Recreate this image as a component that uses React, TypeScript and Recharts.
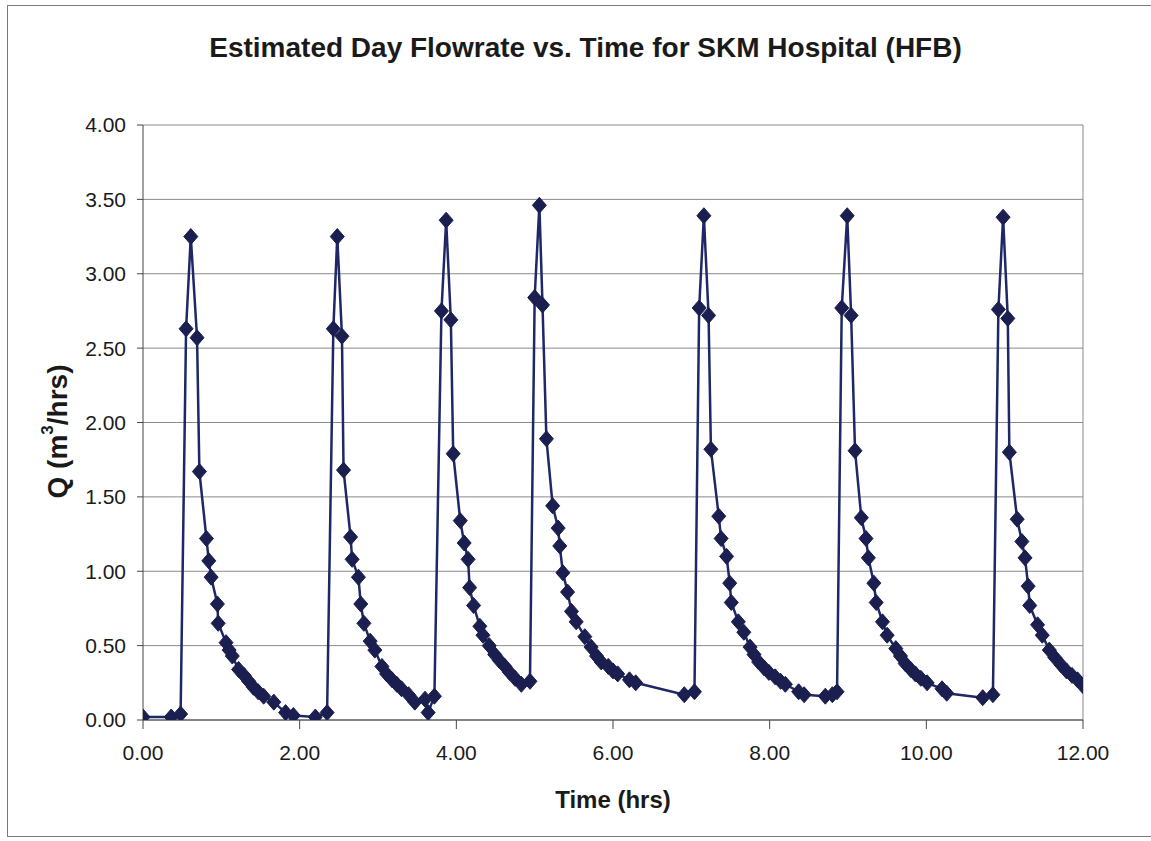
import { LineChart, Line, XAxis, YAxis, CartesianGrid, Label, ReferenceLine } from 'recharts';

// [time (hrs), Q (m3/hrs)], one array per flush cycle
const cycle1: [number, number][] = [
  [0.0, 0.02], [0.36, 0.02], [0.48, 0.04], [0.55, 2.63], [0.61, 3.25], [0.69, 2.57],
  [0.72, 1.67], [0.81, 1.22], [0.84, 1.07], [0.87, 0.96], [0.95, 0.78], [0.96, 0.65],
  [1.06, 0.52], [1.1, 0.47], [1.14, 0.43], [1.22, 0.34], [1.29, 0.3], [1.35, 0.26],
  [1.41, 0.22], [1.47, 0.19], [1.54, 0.16], [1.67, 0.12], [1.82, 0.05], [1.92, 0.03],
  [2.2, 0.02], [2.35, 0.05],
];
const cycle2: [number, number][] = [
  [2.43, 2.63], [2.48, 3.25], [2.54, 2.58], [2.56, 1.68], [2.65, 1.23], [2.67, 1.08],
  [2.75, 0.96], [2.78, 0.78], [2.82, 0.65], [2.9, 0.53], [2.96, 0.47], [3.05, 0.36],
  [3.11, 0.31], [3.18, 0.27], [3.24, 0.24], [3.3, 0.21], [3.39, 0.17], [3.47, 0.12],
  [3.6, 0.14], [3.64, 0.05], [3.72, 0.16],
];
const cycle3: [number, number][] = [
  [3.81, 2.75], [3.87, 3.36], [3.93, 2.69], [3.96, 1.79], [4.05, 1.34], [4.1, 1.19],
  [4.15, 1.08], [4.17, 0.89], [4.22, 0.77], [4.3, 0.63], [4.34, 0.57], [4.42, 0.5],
  [4.49, 0.44], [4.55, 0.4], [4.62, 0.36], [4.68, 0.32], [4.75, 0.28], [4.83, 0.24],
  [4.94, 0.26],
];
const cycle4: [number, number][] = [
  [5.0, 2.84], [5.06, 3.46], [5.1, 2.79], [5.15, 1.89], [5.23, 1.44], [5.3, 1.29],
  [5.32, 1.17], [5.36, 0.99], [5.42, 0.86], [5.47, 0.73], [5.53, 0.66], [5.64, 0.56],
  [5.72, 0.49], [5.79, 0.43], [5.85, 0.39], [5.94, 0.36], [6.0, 0.33], [6.06, 0.31],
  [6.21, 0.27], [6.29, 0.25], [6.91, 0.17], [7.04, 0.19],
];
const cycle5: [number, number][] = [
  [7.1, 2.77], [7.16, 3.39], [7.22, 2.72], [7.25, 1.82], [7.35, 1.37], [7.38, 1.22],
  [7.45, 1.1], [7.49, 0.92], [7.51, 0.79], [7.6, 0.66], [7.67, 0.59], [7.75, 0.49],
  [7.8, 0.44], [7.86, 0.39], [7.93, 0.35], [7.99, 0.32], [8.07, 0.29], [8.14, 0.26],
  [8.2, 0.24], [8.37, 0.19], [8.44, 0.17], [8.71, 0.16], [8.8, 0.17], [8.86, 0.19],
];
const cycle6: [number, number][] = [
  [8.92, 2.77], [8.99, 3.39], [9.04, 2.72], [9.09, 1.81], [9.17, 1.36], [9.23, 1.22],
  [9.26, 1.09], [9.33, 0.92], [9.36, 0.79], [9.44, 0.66], [9.5, 0.57], [9.61, 0.48],
  [9.67, 0.43], [9.73, 0.38], [9.8, 0.34], [9.86, 0.31], [9.93, 0.28], [10.01, 0.25],
  [10.2, 0.21], [10.26, 0.18], [10.72, 0.15], [10.85, 0.17],
];
const cycle7: [number, number][] = [
  [10.92, 2.76], [10.98, 3.38], [11.04, 2.7], [11.06, 1.8], [11.16, 1.35], [11.22, 1.2],
  [11.26, 1.09], [11.3, 0.9], [11.32, 0.77], [11.42, 0.64], [11.48, 0.57], [11.57, 0.47],
  [11.64, 0.42], [11.72, 0.37], [11.79, 0.33], [11.86, 0.3], [11.93, 0.27], [12.0, 0.23],
];

const xTicks = [0, 2, 4, 6, 8, 10, 12];
const yTicks = [0, 0.5, 1, 1.5, 2, 2.5, 3, 3.5, 4];

const data = [cycle1, cycle2, cycle3, cycle4, cycle5, cycle6, cycle7]
  .flat()
  .map(([t, q]) => ({ t, q }));

const FONT = '"Liberation Sans", Arial, sans-serif';
const NAVY = '#1f2766';

function Diamond(props: any) {
  const { cx, cy } = props;
  if (cx == null || cy == null) return null;
  return (
    <polygon
      points={`${cx},${cy - 8} ${cx + 7},${cy} ${cx},${cy + 8} ${cx - 7},${cy}`}
      fill="#1b1f4f"
      stroke="#1b1f4f"
      strokeWidth={1}
    />
  );
}

export default function App() {
  return (
    <div style={{ position: 'absolute', left: 0, top: 0, width: 1151, height: 841, background: '#fff', overflow: 'hidden', fontFamily: FONT }}>
      <div
        style={{
          position: 'absolute', left: 7, top: 5, width: 1160, height: 830,
          border: '1.5px solid #7a7a7a', borderRight: 'none',
        }}
      />
      <div
        style={{
          position: 'absolute', left: 0, top: 32, width: 1171, textAlign: 'center',
          fontSize: 28, fontWeight: 'bold', color: '#1a1a1a',
        }}
      >
        Estimated Day Flowrate vs. Time for SKM Hospital (HFB)
      </div>
      <LineChart
        width={1151}
        height={841}
        data={data}
        margin={{ top: 125, right: 68, bottom: 21, left: 83 }}
        style={{ position: 'absolute', left: 0, top: 0 }}
      >
        <CartesianGrid vertical={false} stroke="#8a8a8a" strokeWidth={1} />
        <ReferenceLine x={12} stroke="#8a8a8a" strokeWidth={1} />
        <XAxis
          dataKey="t"
          type="number"
          domain={[0, 12]}
          ticks={xTicks}
          tickFormatter={(v) => v.toFixed(2)}
          tick={{ fill: '#1a1a1a', fontSize: 21, fontFamily: FONT }}
          tickSize={9}
          tickMargin={16}
          stroke="#444"
          height={100}
          allowDataOverflow
        >
          <Label
            content={({ viewBox }: any) => (
              <text
                x={viewBox.x + viewBox.width / 2}
                y={viewBox.y + 88}
                textAnchor="middle"
                fontSize={24}
                fontWeight="bold"
                fontFamily={FONT}
                fill="#1a1a1a"
              >
                Time (hrs)
              </text>
            )}
          />
        </XAxis>
        <YAxis
          type="number"
          domain={[0, 4]}
          ticks={yTicks}
          tickFormatter={(v) => v.toFixed(2)}
          tick={{ fill: '#1a1a1a', fontSize: 21, fontFamily: FONT }}
          tickSize={6}
          tickMargin={11}
          stroke="#444"
          width={60}
          allowDataOverflow
        >
          <Label
            content={({ viewBox }: any) => {
              const cx = viewBox.x - 26;
              const cy = viewBox.y + viewBox.height / 2 + 9;
              return (
                <text
                  x={cx}
                  y={cy}
                  transform={`rotate(-90 ${cx} ${cy})`}
                  textAnchor="middle"
                  dominantBaseline="central"
                  fontSize={28}
                  fontWeight="bold"
                  fontFamily={FONT}
                  fill="#1a1a1a"
                >
                  Q (m<tspan dy={-10} fontSize={17}>3</tspan>
                  <tspan dy={10}>/hrs)</tspan>
                </text>
              );
            }}
          />
        </YAxis>
        <Line
          type="linear"
          dataKey="q"
          stroke={NAVY}
          strokeWidth={2.5}
          dot={<Diamond />}
          activeDot={false}
          isAnimationActive={false}
        />
      </LineChart>
    </div>
  );
}
